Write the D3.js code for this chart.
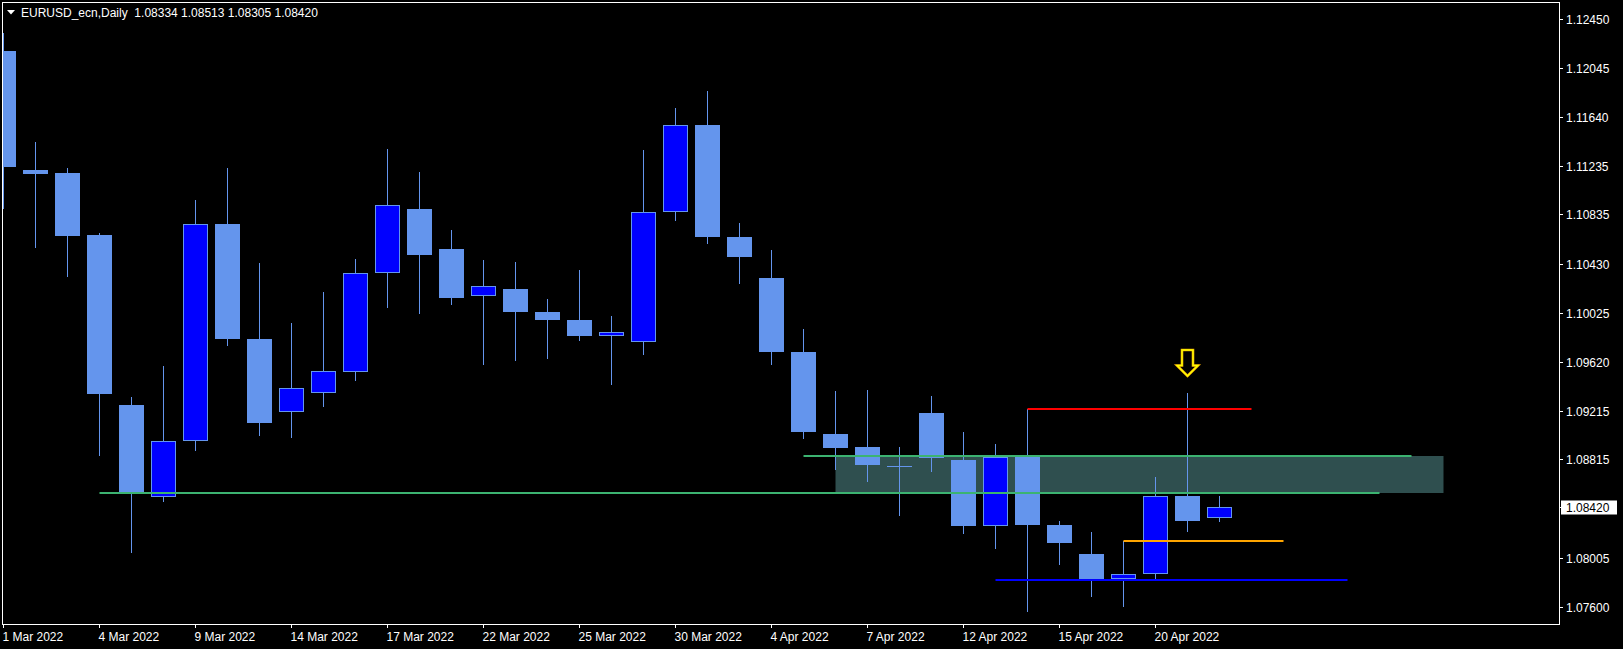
<!DOCTYPE html>
<html><head><meta charset="utf-8">
<script src="https://cdn.jsdelivr.net/npm/d3@7"></script>
<style>html,body{margin:0;padding:0;background:#000;overflow:hidden}</style>
</head><body>
<svg id="chart" width="1623" height="649"></svg>
<script>
// ---------------- data ----------------
const chartTitle = "EURUSD_ecn,Daily  1.08334 1.08513 1.08305 1.08420";
const dates = ["1 Mar 2022","2 Mar 2022","3 Mar 2022","4 Mar 2022","7 Mar 2022","8 Mar 2022","9 Mar 2022","10 Mar 2022","11 Mar 2022",
  "14 Mar 2022","15 Mar 2022","16 Mar 2022","17 Mar 2022","18 Mar 2022","21 Mar 2022","22 Mar 2022","23 Mar 2022","24 Mar 2022","25 Mar 2022",
  "28 Mar 2022","29 Mar 2022","30 Mar 2022","31 Mar 2022","1 Apr 2022","4 Apr 2022","5 Apr 2022","6 Apr 2022","7 Apr 2022","8 Apr 2022",
  "11 Apr 2022","12 Apr 2022","13 Apr 2022","14 Apr 2022","15 Apr 2022","18 Apr 2022","19 Apr 2022","20 Apr 2022","21 Apr 2022","22 Apr 2022"];
const open  = [1.12183,1.11202,1.11177,1.10666,1.09264,1.08503,1.08965,1.10756,1.09808,1.09204,1.09360,1.09536,1.10350,1.10880,1.10550,1.10160,1.10221,1.10031,1.09965,
  1.09830,1.09781,1.10853,1.11573,1.10649,1.10311,1.09701,1.09025,1.08918,1.08760,1.09198,1.08811,1.08269,1.08838,1.08275,1.08035,1.07827,1.07868,1.08514,1.08334];
const high  = [1.12329,1.11433,1.11218,1.10682,1.09330,1.09586,1.10954,1.11218,1.10435,1.09940,1.10196,1.10468,1.11375,1.11185,1.10707,1.10460,1.10443,1.10138,1.10377,
  1.09998,1.11367,1.11713,1.11853,1.10765,1.10542,1.09891,1.09379,1.09388,1.08918,1.09338,1.09041,1.08942,1.09229,1.08308,1.08217,1.08143,1.08670,1.09363,1.08513];
const low   = [1.10891,1.10569,1.10330,1.08854,1.08054,1.08475,1.08895,1.09761,1.09019,1.09003,1.09258,1.09473,1.10075,1.10025,1.10099,1.09605,1.09638,1.09654,1.09802,
  1.09440,1.09687,1.10792,1.10602,1.10272,1.09605,1.08994,1.08739,1.08640,1.08360,1.08722,1.08211,1.08087,1.07568,1.07955,1.07692,1.07609,1.07829,1.08228,1.08305];
const close = [1.11229,1.11169,1.10660,1.09357,1.08544,1.08965,1.10754,1.09811,1.09118,1.09402,1.09542,1.10350,1.10911,1.10503,1.10149,1.10243,1.10033,1.09967,1.09835,
  1.09863,1.10853,1.11570,1.10652,1.10487,1.09704,1.09044,1.08912,1.08772,1.08758,1.08830,1.08269,1.08838,1.08275,1.08129,1.07829,1.07868,1.08511,1.08310,1.08420];

const priceTicks = [1.12450,1.12045,1.11640,1.11235,1.10835,1.10430,1.10025,1.09620,1.09215,1.08815,1.08005,1.07600];
const dateTickLabels = ["1 Mar 2022","4 Mar 2022","9 Mar 2022","14 Mar 2022","17 Mar 2022","22 Mar 2022","25 Mar 2022",
  "30 Mar 2022","4 Apr 2022","7 Apr 2022","12 Apr 2022","15 Apr 2022","20 Apr 2022"];
const lastPrice = 1.08420;

// horizontal levels drawn on the chart (price, start bar, end bar)
const levelNames  = ["resistance","zoneTop","zoneBottom","entry","support"];
const levelPrices = [1.09233, 1.08843, 1.08541, 1.08143, 1.07821];
const levelFrom   = [32, 25, 3, 35, 31];
const levelTo     = [39, 44, 43, 40, 42];
// shaded zone
const zonePrices = [1.08843, 1.08541];
const zoneBars   = [26, 45];
// signal arrow
const arrowBar = 37;
const arrowPrice = 1.09503;

// ---------------- drawing ----------------
const W = 1623, H = 649;
const frame = {left: 2, top: 2, right: 1559, bottom: 624};
const svg = d3.select("#chart");
const FONT = "'Liberation Sans', Arial, sans-serif";

svg.append("rect").attr("width", W).attr("height", H).attr("fill", "#000");

const x = d3.scaleLinear().domain([0, 48]).range([3.5, 3.5 + 48 * 32]);
const y = d3.scaleLinear().domain([1.07600, 1.12450]).range([606.8, 18.6]);

svg.append("defs").append("clipPath").attr("id", "clip")
  .append("rect").attr("x", frame.left + 1).attr("y", frame.top + 1)
  .attr("width", frame.right - frame.left - 1).attr("height", frame.bottom - frame.top - 1);

const g = svg.append("g").attr("clip-path", "url(#clip)");

// zone
g.append("rect")
  .attr("x", x(zoneBars[0]))
  .attr("y", Math.round(y(zonePrices[0])))
  .attr("width", x(zoneBars[1]) - x(zoneBars[0]))
  .attr("height", Math.round(y(zonePrices[1])) - Math.round(y(zonePrices[0])))
  .attr("fill", "#2F4F4F");

const data = dates.map((d, i) => ({i, d, o: open[i], h: high[i], l: low[i], c: close[i]}));
const WICK = "#6495ED", BULL = "#0000FF";

g.selectAll("line.wick").data(data).join("line").attr("class", "wick")
  .attr("x1", d => x(d.i)).attr("x2", d => x(d.i))
  .attr("y1", d => Math.round(y(d.h))).attr("y2", d => Math.round(y(d.l)) + 1)
  .attr("stroke", WICK).attr("stroke-width", 1);

g.selectAll("rect.body").data(data).join("rect").attr("class", "body")
  .each(function(d) {
    const top = Math.round(y(Math.max(d.o, d.c)));
    const bot = Math.round(y(Math.min(d.o, d.c)));
    const el = d3.select(this);
    if (d.c > d.o) {
      el.attr("x", x(d.i) - 12).attr("y", top + 0.5)
        .attr("width", 24).attr("height", Math.max(0, bot - top - 1))
        .attr("fill", BULL).attr("stroke", WICK).attr("stroke-width", 1);
    } else {
      el.attr("x", x(d.i) - 12.5).attr("y", top)
        .attr("width", 25).attr("height", Math.max(1, bot - top))
        .attr("fill", WICK);
    }
  });

// levels
const levelColor = {resistance: "#FF0000", zoneTop: "#3CB371", zoneBottom: "#3CB371", entry: "#FFA500", support: "#0000FF"};
levelNames.forEach((n, k) => {
  const yy = Math.round(y(levelPrices[k]));
  g.append("line")
    .attr("x1", x(levelFrom[k])).attr("x2", x(levelTo[k]))
    .attr("y1", yy).attr("y2", yy)
    .attr("stroke", levelColor[n]).attr("stroke-width", 2);
});

// arrow
{
  const cx = x(arrowBar), tip = y(arrowPrice);
  const pts = [[cx - 5.5, tip - 26], [cx + 5.5, tip - 26], [cx + 5.5, tip - 10.5], [cx + 10.5, tip - 10.5],
               [cx, tip], [cx - 10.5, tip - 10.5], [cx - 5.5, tip - 10.5]];
  g.append("path").attr("d", "M" + pts.map(p => p.join(",")).join("L") + "Z")
    .attr("fill", "none").attr("stroke", "#E8A000").attr("stroke-width", 2.6).attr("stroke-linejoin", "miter");
  g.append("path").attr("d", "M" + pts.map(p => p.join(",")).join("L") + "Z")
    .attr("fill", "none").attr("stroke", "#FFFF00").attr("stroke-width", 1.4).attr("stroke-linejoin", "miter");
}

// frame
svg.append("rect")
  .attr("x", frame.left + 0.5).attr("y", frame.top + 0.5)
  .attr("width", frame.right - frame.left).attr("height", frame.bottom - frame.top)
  .attr("fill", "none").attr("stroke", "#fff").attr("stroke-width", 1);

// price axis
const pa = svg.append("g");
priceTicks.forEach(p => {
  const yy = Math.round(y(p)) + 0.5;
  pa.append("line").attr("x1", frame.right + 0.5).attr("x2", frame.right + 4)
    .attr("y1", yy).attr("y2", yy).attr("stroke", "#fff");
  pa.append("text").attr("x", 1566).attr("y", yy + 4.3)
    .attr("fill", "#fff").attr("font-family", FONT).attr("font-size", "12px")
    .text(d3.format(".5f")(p));
});
{
  const yy = Math.round(y(lastPrice)) + 0.5;
  pa.append("rect").attr("x", 1561).attr("y", yy - 7).attr("width", 56).attr("height", 14).attr("fill", "#fff");
  pa.append("line").attr("x1", frame.right + 0.5).attr("x2", frame.right + 4)
    .attr("y1", yy).attr("y2", yy).attr("stroke", "#fff");
  pa.append("text").attr("x", 1566).attr("y", yy + 4.3)
    .attr("fill", "#000").attr("font-family", FONT).attr("font-size", "12px")
    .text(d3.format(".5f")(lastPrice));
}

// date axis
const da = svg.append("g");
dateTickLabels.forEach(lbl => {
  const i = dates.indexOf(lbl);
  const xx = x(i);
  da.append("line").attr("x1", xx).attr("x2", xx).attr("y1", frame.bottom + 0.5).attr("y2", frame.bottom + 4)
    .attr("stroke", "#fff");
  da.append("text").attr("x", xx - 1).attr("y", 641)
    .attr("fill", "#fff").attr("font-family", FONT).attr("font-size", "12px").text(lbl);
});

// title
svg.append("path").attr("d", "M7,10L15,10L11,14.5Z").attr("fill", "#fff");
svg.append("text").attr("x", 21).attr("y", 17.3).attr("fill", "#fff")
  .attr("font-family", FONT).attr("font-size", "12px").attr("xml:space", "preserve")
  .style("white-space", "pre").text(chartTitle);
</script>
</body></html>
